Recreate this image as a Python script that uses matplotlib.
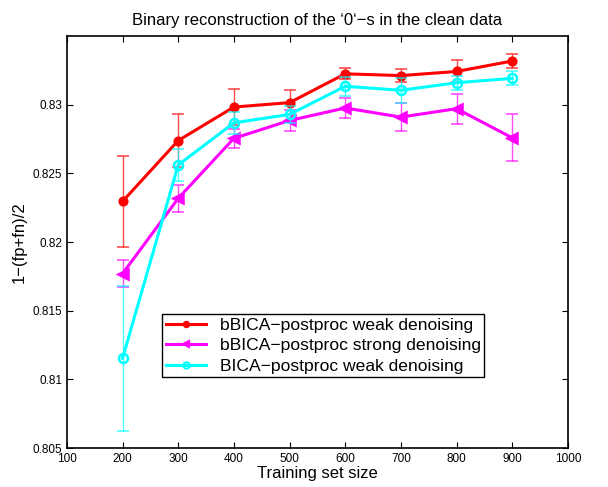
import numpy as np
import matplotlib
matplotlib.use('Agg')
import matplotlib.pyplot as plt
from matplotlib.lines import Line2D

plt.rcParams['font.family'] = ['Liberation Sans', 'DejaVu Sans']

# data ---------------------------------------------------------
sizes = [200, 300, 400, 500, 600, 700, 800, 900]

weak_b = [0.82296, 0.82739, 0.82983, 0.83015, 0.83225, 0.83212, 0.83242, 0.83318]
weak_b_err = [0.0033, 0.0019, 0.0013, 0.0009, 0.0004, 0.0005, 0.0008, 0.0005]

strong_b = [0.8177, 0.82318, 0.82755, 0.82885, 0.82976, 0.8291, 0.82971, 0.82759]
strong_b_err = [0.0010, 0.0010, 0.0007, 0.0008, 0.0007, 0.00105, 0.0011, 0.0017]

weak_bica = [0.81153, 0.82561, 0.82868, 0.82929, 0.83134, 0.83105, 0.83160, 0.83192]
weak_bica_err = [0.0053, 0.0012, 0.0008, 0.0006, 0.0007, 0.0009, 0.0005, 0.0005]

labels = ['bBICA\u2212postproc weak denoising',
          'bBICA\u2212postproc strong denoising',
          'BICA\u2212postproc weak denoising']

fig = plt.figure(figsize=(6.08, 4.87), dpi=100)
ax = fig.add_axes([0.110, 0.080, 0.824, 0.846])

series = [
    (weak_b, weak_b_err, '#ff0000', 'o', '#ff0000', 5.5),
    (strong_b, strong_b_err, '#ff00ff', '<', '#ff00ff', 6.5),
    (weak_bica, weak_bica_err, '#00ffff', 'o', 'none', 6.5),
]
handles = []
for (vals, errs, col, mk, mfc, ms), lab in zip(series, labels):
    ax.errorbar(sizes, vals, yerr=errs, fmt='none', ecolor=col,
                elinewidth=1, capsize=4, capthick=1.2, alpha=0.7)
    ax.plot(sizes, vals, color=col, lw=2.2, marker=mk, ms=ms, mfc=mfc,
            mec=col, mew=1.8)
    handles.append(Line2D([], [], color=col, lw=2.2, marker=mk, ms=ms * 0.7,
                          mfc=mfc, mec=col, mew=1.5, label=lab))

ax.set_xlim(100, 1000)
ax.set_ylim(0.805, 0.835)
ax.set_xticks(np.arange(100, 1001, 100))
ax.set_yticks([0.805, 0.81, 0.815, 0.82, 0.825, 0.83])
ax.set_yticklabels(['0.805', '0.81', '0.815', '0.82', '0.825', '0.83'])
ax.tick_params(direction='in', top=True, right=True, labelsize=8.5, length=4)
for sp in ax.spines.values():
    sp.set_linewidth(1.2)

ax.set_title('Binary reconstruction of the \u20180\u2018\u2212s in the clean data',
             fontsize=12, pad=8)
ax.set_xlabel('Training set size', fontsize=12, labelpad=1)
ax.set_ylabel('1\u2212(fp+fn)/2', fontsize=12)

leg = ax.legend(handles=handles, loc='lower left', bbox_to_anchor=(0.19, 0.172),
                fontsize=12.6, fancybox=False, edgecolor='black', framealpha=1,
                handlelength=2.3, borderpad=0.2, labelspacing=0.3,
                handletextpad=0.8, borderaxespad=0)
leg.get_frame().set_linewidth(1.0)

fig.savefig('out.png', dpi=100)
